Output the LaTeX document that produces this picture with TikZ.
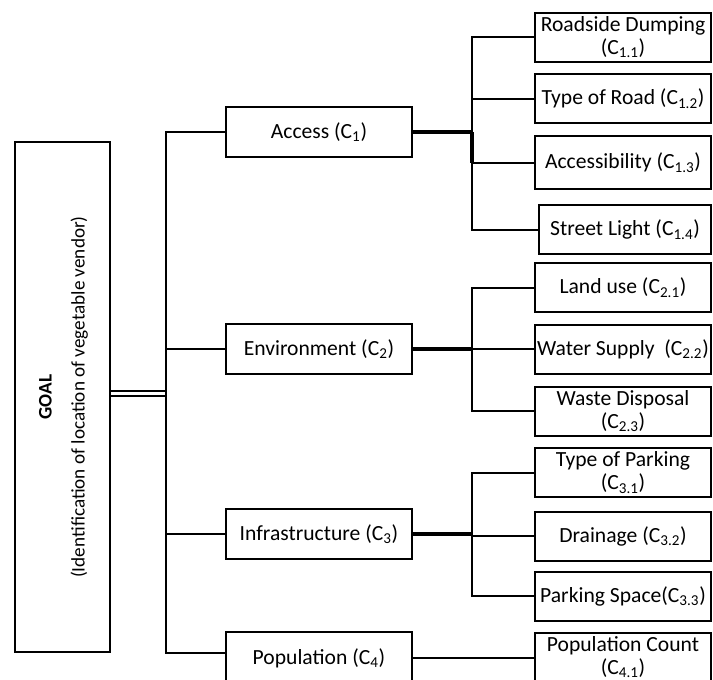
\documentclass[tikz,border=0pt]{standalone}
\usepackage{fontspec}
\setmainfont{Carlito}
\usetikzlibrary{calc}
\begin{document}
\begin{tikzpicture}[x=0.75pt,y=-0.75pt,
  box/.style={draw,line width=1.5pt,inner sep=0pt,align=center,
    font=\fontsize{16.2}{17}\selectfont},
  midbox/.style={box,minimum width=186*0.75pt,minimum height=50*0.75pt},
  leafbox/.style={box,minimum width=176*0.75pt,minimum height=49*0.75pt},
  conn/.style={line width=1.5pt},
  thickconn/.style={line width=3pt}]
\useasboundingbox (0,0) rectangle (713,679);
% goal
\node[draw,line width=1.5pt,minimum width=95*0.75pt,minimum height=510*0.75pt,inner sep=0pt] (goal) at (62.5,397) {};
\node[rotate=90,align=center,font=\fontsize{14.4}{24.75}\selectfont] (goaltext) at (63.5,397)
  {\textbf{GOAL}\\(Identification of location of vegetable vendor)};
% criteria
\node[midbox] (c1) at (319,132) {Access (C\textsubscript{1})};
\node[midbox] (c2) at (319,349) {Environment (C\textsubscript{2})};
\node[midbox] (c3) at (319,534) {Infrastructure (C\textsubscript{3})};
\node[midbox,minimum height=52*0.75pt] (c4) at (319,658) {Population (C\textsubscript{4})};
% sub-criteria
\node[leafbox] (l11) at (623,37) {Roadside Dumping\\(C\textsubscript{1.1})};
\node[leafbox] (l12) at (623,98.5) {Type of Road (C\textsubscript{1.2})};
\node[leafbox,minimum height=53*0.75pt] (l13) at (623,162.5) {Accessibility (C\textsubscript{1.3})};
\node[leafbox,minimum width=172*0.75pt] (l14) at (625,229.5) {Street Light (C\textsubscript{1.4})};
\node[leafbox] (l21) at (623,287.5) {Land use (C\textsubscript{2.1})};
\node[leafbox] (l22) at (623,349) {Water Supply~~(C\textsubscript{2.2})};
\node[leafbox] (l23) at (623,411) {Waste Disposal\\(C\textsubscript{2.3})};
\node[leafbox] (l31) at (623,472.5) {Type of Parking\\(C\textsubscript{3.1})};
\node[leafbox] (l32) at (623,536) {Drainage (C\textsubscript{3.2})};
\node[leafbox] (l33) at (623,596) {Parking Space(C\textsubscript{3.3})};
\node[leafbox,minimum height=48*0.75pt] (l41) at (623,657) {Population Count\\(C\textsubscript{4.1})};
% junction coordinates
\coordinate (tr) at (166,0);
\coordinate (j) at (472,0);
% goal to trunk (double line)
\draw[line width=1pt] ($(goal.east)+(0,-6)$) -- ($(goal.east -| tr)+(0,-6)$);
\draw[line width=2.2pt] ($(goal.east)+(0,-1)$) -- ($(goal.east -| tr)+(0,-1)$);
% main trunk
\draw[conn] (c1.west) -- (c1.west -| tr) -- (tr |- goal.south) -- (c4.west |- goal.south);
\draw[conn] (tr |- c2.west) -- (c2.west);
\draw[conn] (tr |- c3.west) -- (c3.west);
% access branch
\draw[thickconn] (c1.east) -- (c1.east -| j);
\draw[conn] (l11.west) -- (l11.west -| j) |- (l14.west);
\draw[conn] (j |- l12.west) -- (l12.west);
\draw[conn] (j |- l13.west) -- (l13.west);
\draw[line width=2.5pt] (c1.east -| j) -- (j |- l13.west);
% environment branch
\draw[thickconn] (c2.east) -- (c2.east -| j);
\draw[conn] (l21.west) -- (l21.west -| j) |- (l23.west);
\draw[conn] (j |- l22.west) -- (l22.west);
% infrastructure branch
\draw[thickconn] (c3.east) -- (c3.east -| j);
\draw[conn] (l31.west) -- (l31.west -| j) |- (l33.west);
\draw[conn] (j |- l32.west) -- (l32.west);
% population branch
\draw[conn] (c4.east) -- (c4.east -| l41.west);
\end{tikzpicture}
\end{document}
